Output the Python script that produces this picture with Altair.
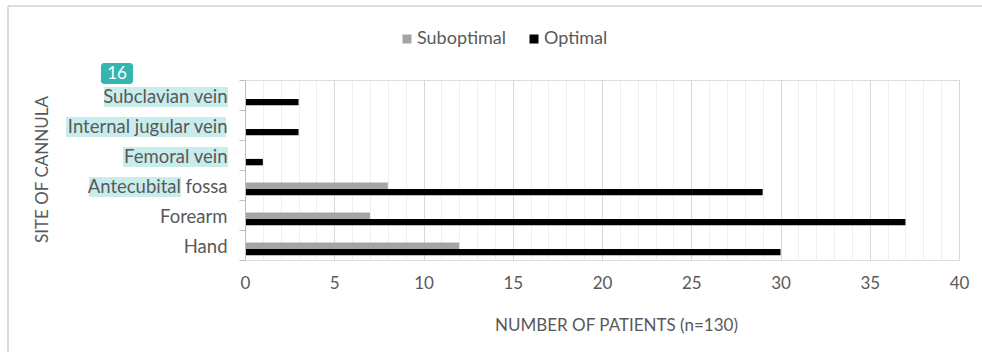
import altair as alt
import pandas as pd

# Site of cannula, listed top to bottom as drawn
sites = ["Subclavian vein", "Internal jugular vein", "Femoral vein",
         "Antecubital fossa", "Forearm", "Hand"]
suboptimal = [0, 0, 0, 8, 7, 12]
optimal = [3, 3, 1, 29, 37, 30]
series = ["Suboptimal", "Optimal"]
series_colors = ["#a5a5a5", "#000000"]
x_ticks = list(range(0, 41))

# Annotation badge and highlighted labels
badge_text = "16"
highlighted = ["Subclavian vein", "Internal jugular vein", "Femoral vein", "Antecubital fossa"]

FONT = "Lato"
GREY_TEXT = "#595959"

rows = []
for s, so, op in zip(sites, suboptimal, optimal):
    rows.append({"site": s, "status": "Suboptimal", "n": so})
    rows.append({"site": s, "status": "Optimal", "n": op})
df = pd.DataFrame(rows)

W, H = 714, 180

y_enc = alt.Y(
    "site:N",
    sort=sites,
    scale=alt.Scale(domain=sites, paddingInner=0, paddingOuter=0),
    axis=alt.Axis(
        title="SITE OF CANNULA",
        titleFont=FONT, titleFontSize=17, titleFontWeight="normal",
        titleColor=GREY_TEXT, titleAngle=270,
        titleX=-203, titleY=H / 2 - 1, titleAlign="center", titleBaseline="middle",
        labelFont=FONT, labelFontSize=18.5, labelColor=GREY_TEXT, labelPadding=12,
        labelOffset=1.5,
        domainColor="#bfbfbf", tickColor="#bfbfbf", tickSize=6, tickBand="extent",
        grid=False, zindex=1,
    ),
)

x_axis = alt.Axis(
    values=x_ticks,
    labelExpr="datum.value % 5 === 0 ? datum.label : ''",
    labelFlush=False,
    title="NUMBER OF PATIENTS (n=130)",
    titleFont=FONT, titleFontSize=17, titleFontWeight="normal", titleColor=GREY_TEXT,
    titleX=371, titleY=65, titleAlign="center", titleBaseline="middle",
    labelFont=FONT, labelFontSize=17, labelColor=GREY_TEXT, labelPadding=15,
    ticks=False, domain=False, grid=True,
    gridColor={"condition": {"test": "datum.value % 5 === 0", "value": "#d9d9d9"},
               "value": "#eeeeee"},
    gridWidth=1, zindex=0,
)

# A leading empty slot in the offset scale places the pair of bars slightly low in each band
offset_domain = ["_gap"] + series

bars = alt.Chart(df).mark_bar().encode(
    x=alt.X("n:Q", scale=alt.Scale(domain=[0, 40], nice=False), axis=x_axis),
    y=y_enc,
    yOffset=alt.YOffset(
        "status:N",
        scale=alt.Scale(domain=offset_domain, paddingInner=0, paddingOuter=0.84, align=0.565),
    ),
    color=alt.Color(
        "status:N",
        scale=alt.Scale(domain=series, range=series_colors),
        legend=alt.Legend(
            title=None, orient="none", legendX=153, legendY=-50, direction="horizontal",
            symbolType="square", symbolSize=81, symbolStrokeWidth=0,
            labelFont=FONT, labelFontSize=18, labelColor=GREY_TEXT,
            labelOffset=1, columnPadding=19,
        ),
    ),
)

# Highlight boxes behind the annotated labels
hl = pd.DataFrame({
    "site": highlighted,
    "left": [-141, -179, -122, -156],
    "right": [-17, -19, -17, -64],
})
highlights = alt.Chart(hl).mark_bar(height=20, yOffset=2, color="#c9eded").encode(
    y=alt.Y("site:N", sort=sites),
    x=alt.X("left:Q", scale=None),
    x2="right:Q",
)

badge = alt.Chart(pd.DataFrame({"t": [badge_text]})).mark_rect(
    color="#34b5b0", cornerRadius=3
).encode(x=alt.value(-144), x2=alt.value(-112), y=alt.value(-17), y2=alt.value(4))

badge_label = alt.Chart(pd.DataFrame({"t": [badge_text]})).mark_text(
    font=FONT, fontSize=17, color="white", align="center", baseline="middle"
).encode(text="t:N", x=alt.value(-128), y=alt.value(-6))

# Light frame on the top and left edges
frame_top = alt.Chart(pd.DataFrame({"t": [0]})).mark_rule(color="#dddddd", strokeWidth=2).encode(
    x=alt.value(-237), x2=alt.value(740), y=alt.value(-74))
frame_left = alt.Chart(pd.DataFrame({"t": [0]})).mark_rule(color="#dddddd", strokeWidth=2).encode(
    x=alt.value(-237), y=alt.value(-74), y2=alt.value(280))

chart = alt.layer(
    highlights, bars, badge, badge_label, frame_top, frame_left
).properties(
    width=W, height=H,
    autosize=alt.AutoSizeParams(type="none"),
    padding={"left": 245, "top": 80, "right": 23, "bottom": 92},
).configure_view(stroke=None).configure(background="white")

chart.save("out.html", embed_options={"renderer": "svg", "actions": False})
